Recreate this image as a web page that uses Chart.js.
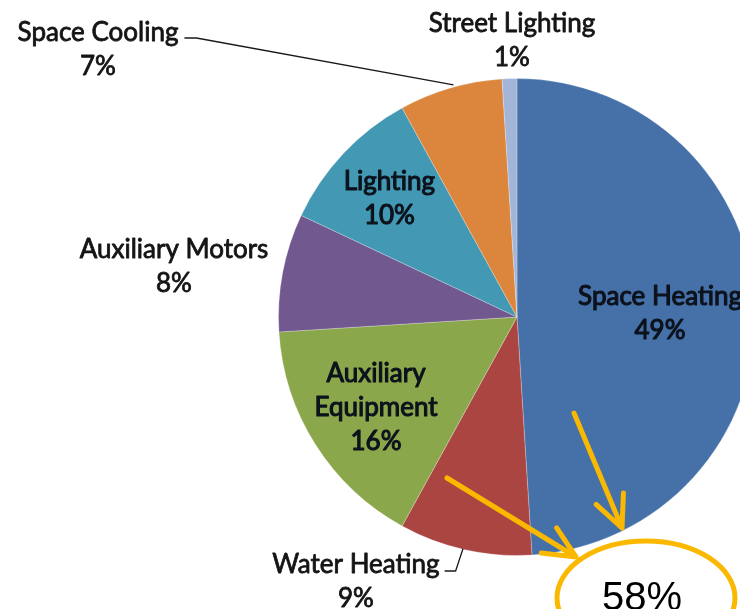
<!DOCTYPE html>
<html lang="en">
  <head>
    <meta charset="UTF-8" />
    <title>Energy use by end use</title>
    <script src="https://cdn.jsdelivr.net/npm/chart.js"></script>
    <style>
      html, body { margin: 0; padding: 0; overflow: hidden; background: #fff; }
      #wrap { width: 800px; height: 609px; }
    </style>
  </head>
  <body>
    <div id="wrap"><canvas id="pieChart" width="800" height="609"></canvas></div>

    <script>
      // data, clockwise from 12 o'clock
      const categories = [
        "Space Heating",
        "Water Heating",
        "Auxiliary Equipment",
        "Auxiliary Motors",
        "Lighting",
        "Space Cooling",
        "Street Lighting",
      ];
      const shares = [49, 9, 16, 8, 10, 7, 1];
      const sliceColors = [
        "#4671A8",
        "#AB4542",
        "#8BA74B",
        "#71588F",
        "#4399B3",
        "#DC853C",
        "#A3B6DA",
      ];
      const highlightText = "58%";

      // label lines for each slice (name may wrap)
      const labelLines = [
        ["Space Heating"],
        ["Water Heating"],
        ["Auxiliary", "Equipment"],
        ["Auxiliary Motors"],
        ["Lighting"],
        ["Space Cooling"],
        ["Street Lighting"],
      ];

      // where each label sits: inside -> fraction of radius along the mid angle,
      // outside -> offset of first line from the pie centre
      const labelPlace = [
        { inside: 0.6 },
        { dx: -161, dy: 247, leader: "water" },
        { inside: 0.7 },
        { dx: -343, dy: -68 },
        { inside: 0.734 },
        { dx: -419, dy: -285, leader: "cooling" },
        { dx: -5, dy: -294 },
      ];

      const labelFont = "26px Lato";
      const lineGap = 34;

      function boldText(ctx, t, x, y, w) {
        // Lato has no semibold here, so thicken the regular face a little
        ctx.lineWidth = w;
        ctx.strokeStyle = ctx.fillStyle;
        ctx.lineJoin = "round";
        ctx.strokeText(t, x, y);
        ctx.fillText(t, x, y);
      }

      function drawLabels(chart) {
        const ctx = chart.ctx;
        const arcs = chart.getDatasetMeta(0).data;
        const cx = arcs[0].x;
        const cy = arcs[0].y;
        const r = arcs[0].outerRadius;

        ctx.save();
        ctx.font = labelFont;
        ctx.textAlign = "center";
        ctx.textBaseline = "alphabetic";
        const capHalf = 9.4;

        arcs.forEach((arc, i) => {
          const mid = (arc.startAngle + arc.endAngle) / 2;
          const lines = labelLines[i].concat([shares[i] + "%"]);
          const place = labelPlace[i];
          let x, y0, weight;
          if (place.inside) {
            const bx = cx + Math.cos(mid) * r * place.inside;
            const by = cy + Math.sin(mid) * r * place.inside;
            x = bx;
            y0 = by - ((lines.length - 1) * lineGap) / 2;
            ctx.fillStyle = "#0c121c";
            weight = 1.1;
          } else {
            x = cx + place.dx;
            y0 = cy + place.dy;
            ctx.fillStyle = "#141414";
            weight = 0.8;

            // leader line from label to slice edge
            if (place.leader) {
              const ex = cx + Math.cos(mid) * r;
              const ey = cy + Math.sin(mid) * r;
              const w = ctx.measureText(lines[0]).width;
              ctx.save();
              ctx.strokeStyle = "#1a1a1a";
              ctx.lineWidth = 1.3;
              ctx.beginPath();
              if (place.leader === "cooling") {
                const sx = x + w / 2 + 6;
                const sy = y0 + 6;
                ctx.moveTo(sx, sy);
                ctx.lineTo(sx + 12, sy);
                ctx.lineTo(ex + 3, ey - 3);
              } else {
                const sx = x + w / 2 + 5;
                const sy = y0 + 7;
                ctx.moveTo(sx, sy);
                ctx.lineTo(sx + 11, sy);
                ctx.lineTo(ex - 2, ey - 1);
              }
              ctx.stroke();
              ctx.restore();
            }
          }
          lines.forEach((t, k) => {
            boldText(ctx, t, x, y0 + k * lineGap + capHalf, weight);
          });
        });
        ctx.restore();
      }

      function arrow(ctx, x1, y1, x2, y2) {
        const a = Math.atan2(y2 - y1, x2 - x1);
        const len = 35;
        const spread = (25 * Math.PI) / 180;
        ctx.beginPath();
        ctx.moveTo(x1, y1);
        ctx.lineTo(x2, y2);
        ctx.moveTo(x2 - len * Math.cos(a - spread), y2 - len * Math.sin(a - spread));
        ctx.lineTo(x2, y2);
        ctx.lineTo(x2 - len * Math.cos(a + spread), y2 - len * Math.sin(a + spread));
        ctx.stroke();
      }

      // yellow call-out: two arrows and a circled total
      function drawCallout(chart) {
        const ctx = chart.ctx;
        const arc = chart.getDatasetMeta(0).data[0];
        const cx = arc.x;
        const cy = arc.y;

        ctx.save();
        ctx.strokeStyle = "#FBB800";
        ctx.lineWidth = 5;
        ctx.lineCap = "round";
        ctx.lineJoin = "round";
        arrow(ctx, cx + 57, cy + 96, cx + 105, cy + 211);
        arrow(ctx, cx - 70, cy + 161, cx + 59, cy + 240);

        ctx.beginPath();
        ctx.ellipse(cx + 129, cy + 281, 89, 57, 0, 0, Math.PI * 2);
        ctx.stroke();

        ctx.fillStyle = "#000";
        ctx.font = "40px 'Liberation Sans', Arial";
        ctx.textAlign = "center";
        ctx.textBaseline = "alphabetic";
        ctx.fillText(highlightText, cx + 125, cy + 293);
        ctx.restore();
      }

      const ctx = document.getElementById("pieChart").getContext("2d");
      const chart = new Chart(ctx, {
        type: "pie",
        data: {
          labels: categories,
          datasets: [
            {
              data: shares,
              backgroundColor: sliceColors,
              borderColor: "rgba(255,255,255,0.25)",
              borderWidth: 1,
            },
          ],
        },
        options: {
          responsive: false,
          animation: false,
          layout: {
            padding: { left: 278, top: 77, right: 44, bottom: 52 },
          },
          plugins: {
            legend: { display: false },
            tooltip: { enabled: false },
          },
        },
        plugins: [
          {
            id: "sliceLabels",
            afterDatasetsDraw(chart) {
              drawLabels(chart);
              drawCallout(chart);
            },
          },
        ],
      });
    </script>
  </body>
</html>
